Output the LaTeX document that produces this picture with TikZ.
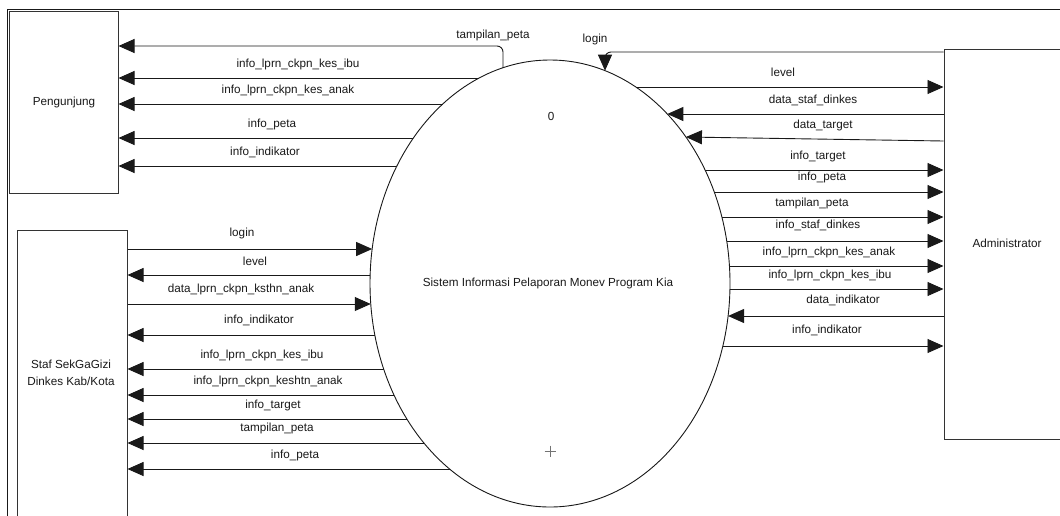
\documentclass[tikz,border=0pt]{standalone}
\usepackage{fontspec}
\setmainfont{Liberation Sans}
\usetikzlibrary{arrows.meta,shapes.geometric}
\newcommand\ptL[2]{\coordinate (#1) at ({550-180*sqrt(1-((#2-283.5)/223.5)*((#2-283.5)/223.5))},#2);}
\newcommand\ptR[2]{\coordinate (#1) at ({550+180*sqrt(1-((#2-283.5)/223.5)*((#2-283.5)/223.5))},#2);}
\begin{document}
\begin{tikzpicture}[x=1pt,y=-1pt,
  ln/.style={line width=0.9pt, black!90},
  arr/.style={ln,-{Triangle[length=16pt,width=14pt]}},
  lbl/.style={font=\fontsize{11.7}{17}\selectfont, inner sep=0pt, text=black!90},
  ent/.style={draw, line width=1pt, black!80, inner sep=0pt, fill=white},
]
\clip (0,0) rectangle (1060,515);
\fill[white] (0,0) rectangle (1060,515);
% frame
\draw[ln] (7.5,520) -- (7.5,9) -- (1065,9);
% entities
\node[ent, minimum width=109pt, minimum height=182pt] (peng) at (63.5,102) {};
\node[lbl] (pengT) at (64,102) {Pengunjung};
\node[ent, minimum width=110pt, minimum height=380pt] (staf) at (72,420) {};
\node[lbl, align=center] (stafT) at (71,373) {Staf SekGaGizi\\Dinkes Kab/Kota};
\node[ent, minimum width=206pt, minimum height=390pt] (admin) at (1047,244) {};
\node[lbl] (adminT) at (1007,243) {Administrator};
% process
\node[draw, ellipse, line width=0.9pt, black!90, minimum width=360pt, minimum height=447pt, inner sep=0pt] (P) at (550,283.5) {};
\node[lbl] (zero) at (551,116) {0};
\node[lbl] (ptxt) at (548,283) {Sistem Informasi Pelaporan Monev Program Kia};
\draw[black!55, line width=0.8pt] (544.5,451) -- (555.5,451) (550,445.5) -- (550,456.5);
% ---- Pengunjung flows
\coordinate (a1) at (503,{283.5-223.5*sqrt(1-((503-550)/180)*((503-550)/180))});
\draw[arr, rounded corners=6pt] (a1) |- (peng.east |- 0,46);
\node[lbl] (la1) at (493,35) {tampilan\_peta};
\ptL{a2}{78}\draw[arr] (a2) -- (a2 -| peng.east);
\node[lbl] (la2) at (298,64) {info\_lprn\_ckpn\_kes\_ibu};
\ptL{a3}{104}\draw[arr] (a3) -- (a3 -| peng.east);
\node[lbl] (la3) at (288,90) {info\_lprn\_ckpn\_kes\_anak};
\ptL{a4}{138}\draw[arr] (a4) -- (a4 -| peng.east);
\node[lbl] (la4) at (272,124) {info\_peta};
\ptL{a5}{166}\draw[arr] (a5) -- (a5 -| peng.east);
\node[lbl] (la5) at (265,152) {info\_indikator};
% ---- Administrator flows
\coordinate (b1) at (605,{283.5-223.5*sqrt(1-((605-550)/180)*((605-550)/180))});
\draw[arr, rounded corners=6pt] (admin.west |- 0,52) -| (b1);
\node[lbl] (lb1) at (595,39) {login};
\ptR{r1}{87}\draw[arr] (r1) -- (r1 -| admin.west);
\node[lbl] (lr1) at (783,72) {level};
\ptR{r2}{114}\draw[arr] (r2 -| admin.west) -- (r2);
\node[lbl] (lr2) at (813,100) {data\_staf\_dinkes};
\ptR{r3}{137}\draw[arr] (admin.west |- 0,141) -- (r3);
\node[lbl] (lr3) at (823,125) {data\_target};
\ptR{r4}{170}\draw[arr] (r4) -- (r4 -| admin.west);
\node[lbl] (lr4) at (818,156) {info\_target};
\ptR{r5}{192}\draw[arr] (r5) -- (r5 -| admin.west);
\node[lbl] (lr5) at (822,177) {info\_peta};
\ptR{r6}{217}\draw[arr] (r6) -- (r6 -| admin.west);
\node[lbl] (lr6) at (812,203) {tampilan\_peta};
\ptR{r7}{241}\draw[arr] (r7) -- (r7 -| admin.west);
\node[lbl] (lr7) at (818,225) {info\_staf\_dinkes};
\ptR{r8}{266}\draw[arr] (r8) -- (r8 -| admin.west);
\node[lbl] (lr8) at (829,252) {info\_lprn\_ckpn\_kes\_anak};
\ptR{r9}{289}\draw[arr] (r9) -- (r9 -| admin.west);
\node[lbl] (lr9) at (830,275) {info\_lprn\_ckpn\_kes\_ibu};
\ptR{r10}{316}\draw[arr] (r10 -| admin.west) -- (r10);
\node[lbl] (lr10) at (843,300) {data\_indikator};
\ptR{r11}{346}\draw[arr] (r11) -- (r11 -| admin.west);
\node[lbl] (lr11) at (827,330) {info\_indikator};
% ---- Staf flows
\ptL{s1}{249}\draw[arr] (s1 -| staf.east) -- (s1);
\node[lbl] (ls1) at (242,233) {login};
\ptL{s2}{275}\draw[arr] (s2) -- (s2 -| staf.east);
\node[lbl] (ls2) at (255,261) {level};
\ptL{s3}{304}\draw[arr] (s3 -| staf.east) -- (s3);
\node[lbl] (ls3) at (241,289) {data\_lprn\_ckpn\_ksthn\_anak};
\ptL{s4}{335}\draw[arr] (s4) -- (s4 -| staf.east);
\node[lbl] (ls4) at (259,320) {info\_indikator};
\ptL{s5}{369}\draw[arr] (s5) -- (s5 -| staf.east);
\node[lbl] (ls5) at (262,355) {info\_lprn\_ckpn\_kes\_ibu};
\ptL{s6}{395}\draw[arr] (s6) -- (s6 -| staf.east);
\node[lbl] (ls6) at (268,381) {info\_lprn\_ckpn\_keshtn\_anak};
\ptL{s7}{419}\draw[arr] (s7) -- (s7 -| staf.east);
\node[lbl] (ls7) at (273,405) {info\_target};
\ptL{s8}{443}\draw[arr] (s8) -- (s8 -| staf.east);
\node[lbl] (ls8) at (277,428) {tampilan\_peta};
\ptL{s9}{469}\draw[arr] (s9) -- (s9 -| staf.east);
\node[lbl] (ls9) at (295,455) {info\_peta};
\end{tikzpicture}
\end{document}
